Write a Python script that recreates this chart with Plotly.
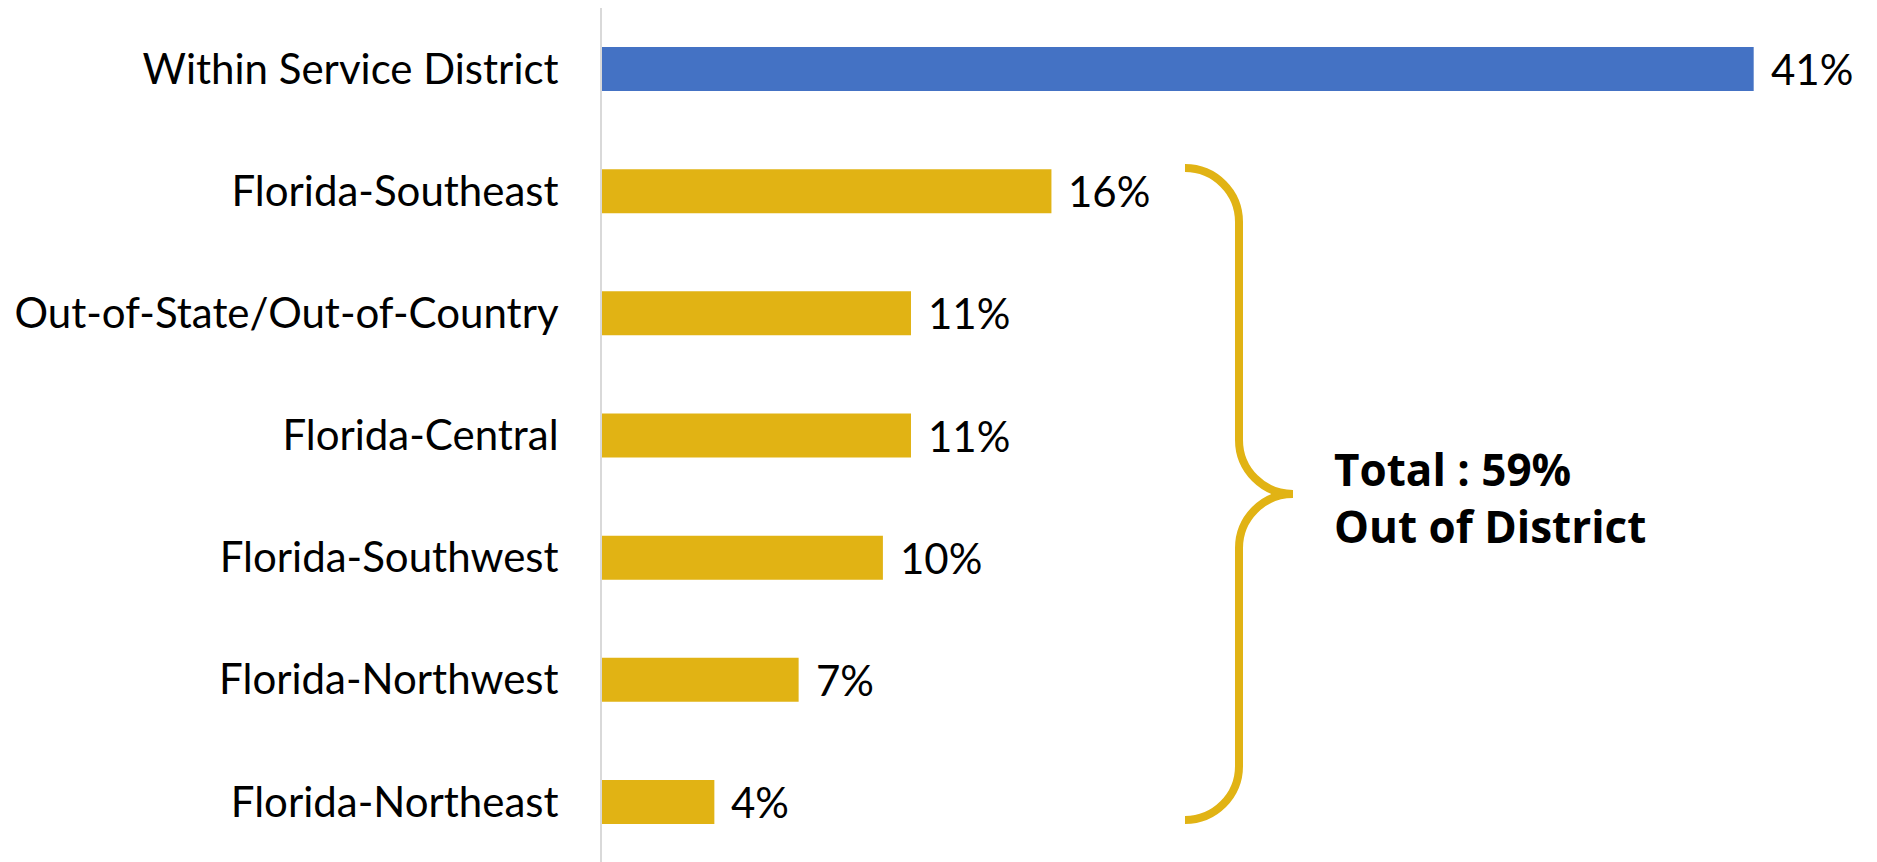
import plotly.graph_objects as go

categories = [
    "Within Service District",
    "Florida-Southeast",
    "Out-of-State/Out-of-Country",
    "Florida-Central",
    "Florida-Southwest",
    "Florida-Northwest",
    "Florida-Northeast",
]
values = [41, 16, 11, 11, 10, 7, 4]
bar_colors = ["#4472C4"] + ["#E1B314"] * 6
total_label = "Total : 59%<br>Out of District"

# page body adds an 8px offset; work in page pixels and subtract it
OFF = 8
W, H = 1877 - OFF, 855
ML, MR, MT, MB = 602 - OFF, 3, 0, 0
PW, PH = W - ML - MR, H - MT - MB
FONT = "Lato"
GOLD = "#E1B314"

fig = go.Figure()
fig.add_trace(go.Bar(
    x=values, y=categories, orientation="h",
    marker=dict(color=bar_colors, line=dict(width=0)),
    width=0.36, hoverinfo="skip",
))

for c, v in zip(categories, values):
    fig.add_annotation(x=v, y=c, text=f"{v}%", xanchor="left", yanchor="middle",
                       xshift=15, showarrow=False,
                       font=dict(family=FONT, size=42, color="#000000"))

def px(xp, yp):
    # xp, yp in page pixels
    return (xp - OFF - ML) / PW, 1 - (yp - OFF - MT) / PH

def P(xp, yp):
    a, b = px(xp, yp)
    return f"{a:.5f},{b:.5f}"

k = 0.552
r = 54
x0, xv, xm = 1185, 1239, 1293
ytop, ymid, ybot = 168, 494, 820
path = (
    f"M{P(x0, ytop)} "
    f"C{P(x0 + k*r, ytop)} {P(xv, ytop + r - k*r)} {P(xv, ytop + r)} "
    f"L{P(xv, ymid - r)} "
    f"C{P(xv, ymid - r + k*r)} {P(xm - k*r, ymid)} {P(xm, ymid)} "
    f"C{P(xm - k*r, ymid)} {P(xv, ymid + r - k*r)} {P(xv, ymid + r)} "
    f"L{P(xv, ybot - r)} "
    f"C{P(xv, ybot - r + k*r)} {P(x0 + k*r, ybot)} {P(x0, ybot)}"
)
fig.add_shape(type="path", path=path, xref="paper", yref="paper",
              line=dict(color=GOLD, width=8))

tx, ty = px(1332, 497)
fig.add_annotation(x=tx, y=ty, xref="paper", yref="paper", text=f"<b>{total_label}</b>",
                   xanchor="left", yanchor="middle", align="left", showarrow=False,
                   font=dict(family="Open Sans", size=44, color="#000000"))

fig.update_layout(
    width=W, height=H,
    margin=dict(l=ML, r=MR, t=MT, b=MB),
    paper_bgcolor="white", plot_bgcolor="white",
    showlegend=False,
    xaxis=dict(range=[0, PW / 28.09], visible=False, fixedrange=True),
    yaxis=dict(autorange="reversed", showgrid=False, showline=True,
               linecolor="#D9D9D9", linewidth=2, ticks="", ticklabelstandoff=33,
               tickfont=dict(family=FONT, size=42, color="#000000"), fixedrange=True),
)

fig.write_html("out.html", config={"displayModeBar": False})
